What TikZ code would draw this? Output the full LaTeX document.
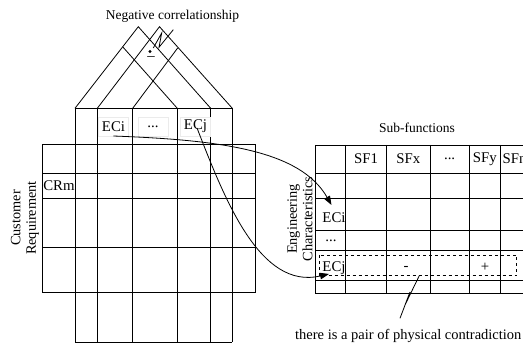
\documentclass[tikz,border=0pt]{standalone}
\usepackage{fontspec}
\setmainfont{Liberation Serif}
\usetikzlibrary{arrows.meta}
\begin{document}
\begin{tikzpicture}[x=1pt,y=-1pt,
  gridline/.style={line width=0.8pt},
  lbl/.style={font=\fontsize{14.8}{16}\selectfont, inner sep=1pt},
  boxlbl/.style={lbl, draw=black!8, line width=0.4pt, fill=white, minimum width=30pt, minimum height=19pt},
  rotlbl/.style={font=\fontsize{14.3}{15.5}\selectfont, align=center, rotate=90, inner sep=1pt},
  conn/.style={line width=0.8pt, -{Triangle[length=9pt,width=6.5pt]}},
  squig/.style={line width=0.8pt}]
\useasboundingbox (0,0) rectangle (523,344);

% ---------- left matrix ----------
\foreach \x in {75,97.3,132.7,177.3,210.7,232.3}
  \draw[gridline] (\x,108.3) -- (\x,342.3);
\draw[gridline] (75,108.3) -- (232.3,108.3);
\draw[gridline] (75,342.3) -- (232.3,342.3);
\draw[gridline] (42.7,144) rectangle (255.7,292.7);
\foreach \y in {173.3,198.3,247.7}
  \draw[gridline] (42.7,\y) -- (255.7,\y);

% roof
\coordinate (apexA) at (138.3,26.7);
\coordinate (apexB) at (159.5,26.7);
\draw[gridline] (75,108.3) -- (apexA) -- (210.7,108.3);
\draw[gridline] (97.3,108.3) -- (apexB) -- (232.3,108.3);
\draw[gridline] (122.7,46.8) -- (177.3,108.3);
\draw[gridline] (132.7,108.3) -- (177.6,48.1);

\node[circle, fill=black, inner sep=0pt, minimum size=3.2pt] (dot) at (150,51.5) {};
\node[lbl] (minus) at (151,58.5) {–};
\node[lbl, font=\fontsize{13.5}{16}\selectfont] (neg) at (172.5,16.5) {Negative correlationship};
\draw[squig] (153.3,48) -- (161.7,33) -- (159,47.3) -- (173.3,29.7);

\node[boxlbl] (ecil) at (113.5,126.5) {ECi};
\node[boxlbl] (dotsl) at (153,126.5) {...};
\node[boxlbl] (ecjl) at (195.5,126.5) {ECj};
\node[lbl] (crm) at (59,186) {CRm};
\node[rotlbl] (cr) at (25,218) {Customer\\Requirement};

% ---------- right matrix ----------
\foreach \x in {315,345.7,386.7,430,469.3,500.3}
  \draw[gridline] (\x,145) -- (\x,293.3);
\foreach \y in {145,173.3,198.3,230,250.7,280,293.3}
  \draw[gridline] (315,\y) -- (530,\y);

\node[lbl, font=\fontsize{13.5}{16}\selectfont] (sub) at (417,128) {Sub-functions};
\node[lbl] (sf1) at (366,159) {SF1};
\node[lbl] (sfx) at (408.3,159) {SFx};
\node[lbl] (sfd) at (449.6,159) {...};
\node[lbl] (sfy) at (484.8,159) {SFy};
\node[lbl, anchor=west] (sfn) at (501.5,159) {SFn};

\node[lbl] (ecir) at (334,218) {ECi};
\node[lbl] (dotsr) at (331,241) {...};
\node[lbl] (ecjr) at (334,268) {ECj};
\node[rotlbl] (ec) at (300,219) {Engineering\\Characteristics};

\draw[gridline, dashed, line width=0.6pt] (319.3,255) rectangle (516.7,275.7);
\node[lbl] (mi) at (406,268.5) {-};
\node[lbl] (pl) at (485,267.5) {+};

\coordinate (sqtop) at (419.3,275.7);
\draw[squig] (sqtop) -- (405,305) -- (410,292) -- (400,318.3);
\node[lbl, font=\fontsize{14.5}{16}\selectfont] (contr) at (408.3,335.5) {there is a pair of physical contradiction};

% ---------- connectors ----------
\coordinate (a1s) at (113.3,136);
\coordinate (a1e) at (331.5,205);
\coordinate (a2s) at (197,128);
\coordinate (a2e) at (329,274);
\draw[conn] (a1s) .. controls (220,140) and (300,150) .. (a1e);
\draw[conn] (a2s) .. controls (225,200) and (260,290) .. (a2e);
\end{tikzpicture}
\end{document}
